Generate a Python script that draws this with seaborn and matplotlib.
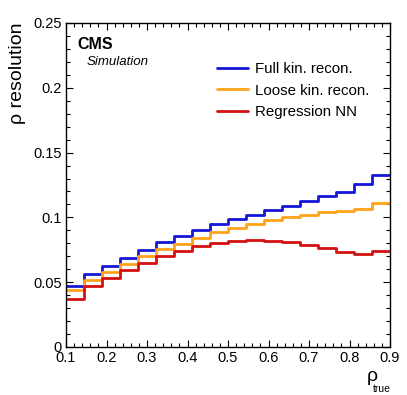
"""
rho resolution vs true rho for three reconstruction methods (CMS simulation style).
"""

import pandas as pd
import matplotlib
matplotlib.use("Agg")
import matplotlib.pyplot as plt
from matplotlib.ticker import MultipleLocator, FuncFormatter
import seaborn as sns

# ── Data ────────────────────────────────────────────────────────────────────
BIN_EDGES = [round(0.1 + i * 0.8 / 18, 6) for i in range(19)]   # 18 bins
BIN_CENTERS = [0.5 * (a + b) for a, b in zip(BIN_EDGES[:-1], BIN_EDGES[1:])]

full_kin = [0.0471, 0.0563, 0.0627, 0.0689, 0.0751, 0.0810, 0.0854, 0.0900, 0.0947,
            0.0985, 0.1020, 0.1055, 0.1090, 0.1127, 0.1165, 0.1198, 0.1260, 0.1330]
loose_kin = [0.0442, 0.0517, 0.0581, 0.0640, 0.0700, 0.0754, 0.0795, 0.0844, 0.0885,
             0.0919, 0.0951, 0.0980, 0.1003, 0.1021, 0.1039, 0.1052, 0.1065, 0.1113]
regression_nn = [0.0373, 0.0468, 0.0535, 0.0594, 0.0648, 0.0700, 0.0743, 0.0779, 0.0802,
                 0.0819, 0.0826, 0.0820, 0.0808, 0.0787, 0.0761, 0.0735, 0.0715, 0.0743]

SERIES = ["Full kin. recon.", "Loose kin. recon.", "Regression NN"]
COLORS = ["#1616d8", "#ffa31a", "#d41111"]

W, H = 407, 395

# ── Style ───────────────────────────────────────────────────────────────────
sns.set_theme(style="ticks")
plt.rcParams["font.family"] = ["Liberation Sans", "DejaVu Sans"]
plt.rcParams["text.color"] = "black"
plt.rcParams["axes.labelcolor"] = "black"

fig = plt.figure(figsize=(W / 100, H / 100), dpi=100)
ax = fig.add_axes([66 / W, 1 - 347 / H, 324 / W, 324 / H])

for name, vals, col in zip(SERIES, [full_kin, loose_kin, regression_nn], COLORS):
    df = pd.DataFrame({"rho": BIN_CENTERS, "res": vals})
    sns.histplot(data=df, x="rho", weights="res", bins=BIN_EDGES, element="step",
                 fill=False, color=col, linewidth=2, label=name, ax=ax)

ax.set_xlim(0.1, 0.9)
ax.set_ylim(0, 0.25)

ax.xaxis.set_major_locator(MultipleLocator(0.1))
ax.xaxis.set_minor_locator(MultipleLocator(0.02))
ax.yaxis.set_major_locator(MultipleLocator(0.05))
ax.yaxis.set_minor_locator(MultipleLocator(0.01))
ax.yaxis.set_major_formatter(FuncFormatter(lambda v, _: f"{v:g}"))
ax.xaxis.set_major_formatter(FuncFormatter(lambda v, _: f"{v:.1f}"))

ax.tick_params(which="both", direction="in", top=True, right=True,
               labelsize=10.5, colors="black", pad=3)
ax.tick_params(which="major", length=5, width=0.8)
ax.tick_params(which="minor", length=2.8, width=0.8)
for sp in ax.spines.values():
    sp.set_linewidth(1.0)
    sp.set_color("black")

ax.set_ylabel("ρ resolution", fontsize=14, loc="top", labelpad=5)
ax.set_xlabel("")

# x label: big rho with small "true" subscript, right-aligned at axis end
fig.text(378 / W, 1 - 381 / H, "ρ", fontsize=14, ha="right", va="baseline")
fig.text(391 / W, 1 - 392 / H, "true", fontsize=7.5, ha="right", va="baseline")

ax.text(0.034, 0.935, "CMS", transform=ax.transAxes, fontsize=11.5,
        fontweight="bold", va="center", ha="left")
ax.text(0.064, 0.880, "Simulation", transform=ax.transAxes, fontsize=9.5,
        fontstyle="italic", va="center", ha="left")

ax.legend(loc="upper left", bbox_to_anchor=(0.466, 0.879), frameon=False,
          fontsize=10.8, handlelength=2.1, handletextpad=0.45, labelspacing=0.5,
          borderpad=0, borderaxespad=0)

fig.savefig("out.png", dpi=100)
